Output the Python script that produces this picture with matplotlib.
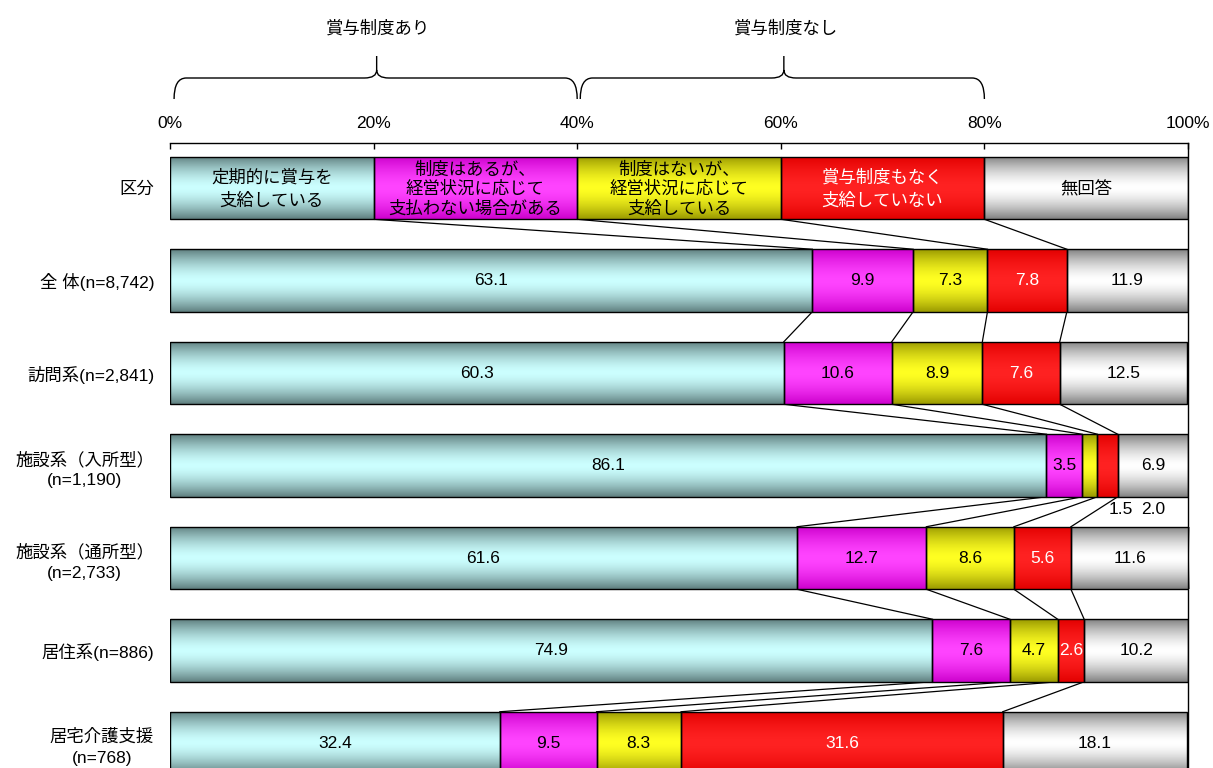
import numpy as np
import matplotlib
matplotlib.use("Agg")
import matplotlib.pyplot as plt
from matplotlib.path import Path
from matplotlib.patches import PathPatch
import matplotlib.transforms as mtransforms

plt.rcParams['font.family'] = ['Liberation Sans', 'Noto Sans CJK JP', 'DejaVu Sans']

# ---- data ----
row_labels = ["区分", "全 体(n=8,742)", "訪問系(n=2,841)", "施設系（入所型）\n(n=1,190)",
              "施設系（通所型）\n(n=2,733)", "居住系(n=886)", "居宅介護支援\n(n=768)"]
categories = ["定期的に賞与を\n支給している", "制度はあるが、\n経営状況に応じて\n支払わない場合がある",
              "制度はないが、\n経営状況に応じて\n支給している", "賞与制度もなく\n支給していない", "無回答"]
header_vals = [20, 20, 20, 20, 20]
teiki = [63.1, 60.3, 86.1, 61.6, 74.9, 32.4]
seido_ari = [9.9, 10.6, 3.5, 12.7, 7.6, 9.5]
seido_nashi = [7.3, 8.9, 1.5, 8.6, 4.7, 8.3]
nashi = [7.8, 7.6, 2.0, 5.6, 2.6, 31.6]
mukaitou = [11.9, 12.5, 6.9, 11.6, 10.2, 18.1]
xticks = [0, 20, 40, 60, 80, 100]
xticklabels = ["0%", "20%", "40%", "60%", "80%", "100%"]
group_labels = ["賞与制度あり", "賞与制度なし"]

# gradient colours: (edge, center)
grad_colors = [("#5E7E7E", "#CCFFFF"), ("#CC00CC", "#FF44FF"), ("#999900", "#FFFF22"),
               ("#E20000", "#FF2222"), ("#808080", "#FFFFFF")]
text_colors = ["black", "black", "black", "white", "black"]

series = [teiki, seido_ari, seido_nashi, nashi, mukaitou]
data = np.array([header_vals] + [list(r) for r in zip(*series)])  # rows x cats

FS = 12.5
fig = plt.figure(figsize=(12.13, 7.68), dpi=100)
W, H = 1213, 768
c0, sp = 188.0, 92.5
y_top_px = 143.0
y_bot_px = c0 + 6.6 * sp
ax_left, ax_right = 170 / W, 1188 / W
ax = fig.add_axes([ax_left, 1 - y_bot_px / H, ax_right - ax_left, (y_bot_px - y_top_px) / H])

nrows = data.shape[0]
ypos = np.arange(nrows)
bar_h = 0.676


def grad_img(edge, center, n=256):
    e = np.array(matplotlib.colors.to_rgb(edge))
    c = np.array(matplotlib.colors.to_rgb(center))
    t = np.linspace(-1, 1, n)
    w = np.abs(t) ** 1.6
    img = c[None, :] * (1 - w[:, None]) + e[None, :] * w[:, None]
    return img[:, None, :]


lefts = np.zeros(nrows)
for j in range(data.shape[1]):
    vals = data[:, j]
    bars = ax.barh(ypos, vals, left=lefts, height=bar_h, color='none',
                   edgecolor='black', linewidth=1.0, zorder=3)
    img = grad_img(*grad_colors[j])
    for i, b in enumerate(bars):
        x0 = b.get_x()
        x1 = x0 + b.get_width()
        y0 = b.get_y()
        y1 = y0 + b.get_height()
        im = ax.imshow(img, extent=[x0, x1, y1, y0], aspect='auto',
                       interpolation='bilinear', zorder=2)
        im.set_clip_path(b)
        cx = x0 + vals[i] / 2
        if i == 0:
            nl = categories[j].count("\n")
            ls = 1.45 if nl == 1 else 1.22
            ax.text(cx, ypos[i] + 0.01, categories[j], ha='center', va='center', fontsize=FS,
                    color=text_colors[j], linespacing=ls, zorder=4)
        else:
            if i == 3 and j in (2, 3):
                off = {2: 93.4, 3: 96.6}[j]
                ax.text(off, ypos[i] + 0.475, f"{vals[i]:.1f}", ha='center', va='center',
                        fontsize=FS, color='black', zorder=4)
            else:
                ax.text(cx, ypos[i], f"{vals[i]:.1f}", ha='center', va='center',
                        fontsize=FS, color=text_colors[j], zorder=4)
    lefts = lefts + vals

# connector lines
cum = np.cumsum(data, axis=1)
for i in range(nrows - 1):
    for j in range(4):
        ax.plot([cum[i, j], cum[i + 1, j]], [ypos[i] + bar_h / 2, ypos[i + 1] - bar_h / 2],
                color='black', linewidth=0.9, zorder=1)

ax.set_xlim(0, 100)
ax.set_ylim(6.6, (y_top_px - c0) / sp)

ax.xaxis.tick_top()
ax.set_xticks(xticks)
ax.set_xticklabels(xticklabels, fontsize=FS)
ax.tick_params(axis='x', direction='in', length=4, width=1, pad=8.4)
ax.set_yticks(ypos)
ax.set_yticklabels(row_labels, fontsize=FS, multialignment='center')
for lbl in ax.get_yticklabels():
    lbl.set_linespacing(1.47)
ax.tick_params(axis='y', length=0, pad=11.5)
for s in ['left', 'bottom']:
    ax.spines[s].set_visible(False)
ax.spines['top'].set_linewidth(1)
ax.spines['right'].set_linewidth(1)

# braces
trans = mtransforms.blended_transform_factory(ax.transData, ax.transAxes)
axh = y_bot_px - y_top_px


def ya(py):
    return (y_bot_px - py) / axh


def brace(x0, x1, tip_x):
    ye, yh, yt = ya(99), ya(78), ya(56)
    r = 1.2
    d = ya(70) - yh
    verts = [(x0, ye), (x0, yh), (x0 + r, yh),
             (tip_x - r, yh), (tip_x, yh), (tip_x, yh + d),
             (tip_x, yt),
             (tip_x, yh + d), (tip_x, yh), (tip_x + r, yh),
             (x1 - r, yh), (x1, yh), (x1, ye)]
    codes = [Path.MOVETO, Path.CURVE3, Path.CURVE3,
             Path.LINETO, Path.CURVE3, Path.CURVE3,
             Path.LINETO,
             Path.MOVETO, Path.CURVE3, Path.CURVE3,
             Path.LINETO, Path.CURVE3, Path.CURVE3]
    p = PathPatch(Path(verts, codes), transform=trans, facecolor='none',
                  edgecolor='black', linewidth=1.0, clip_on=False)
    ax.add_patch(p)


brace(0.4, 40.0, 20.3)
brace(40.3, 80.0, 60.3)
ax.text(20.45, ya(28), group_labels[0], transform=trans, ha='center', va='center', fontsize=FS)
ax.text(60.5, ya(28), group_labels[1], transform=trans, ha='center', va='center', fontsize=FS)

fig.savefig("out.png", dpi=100)
